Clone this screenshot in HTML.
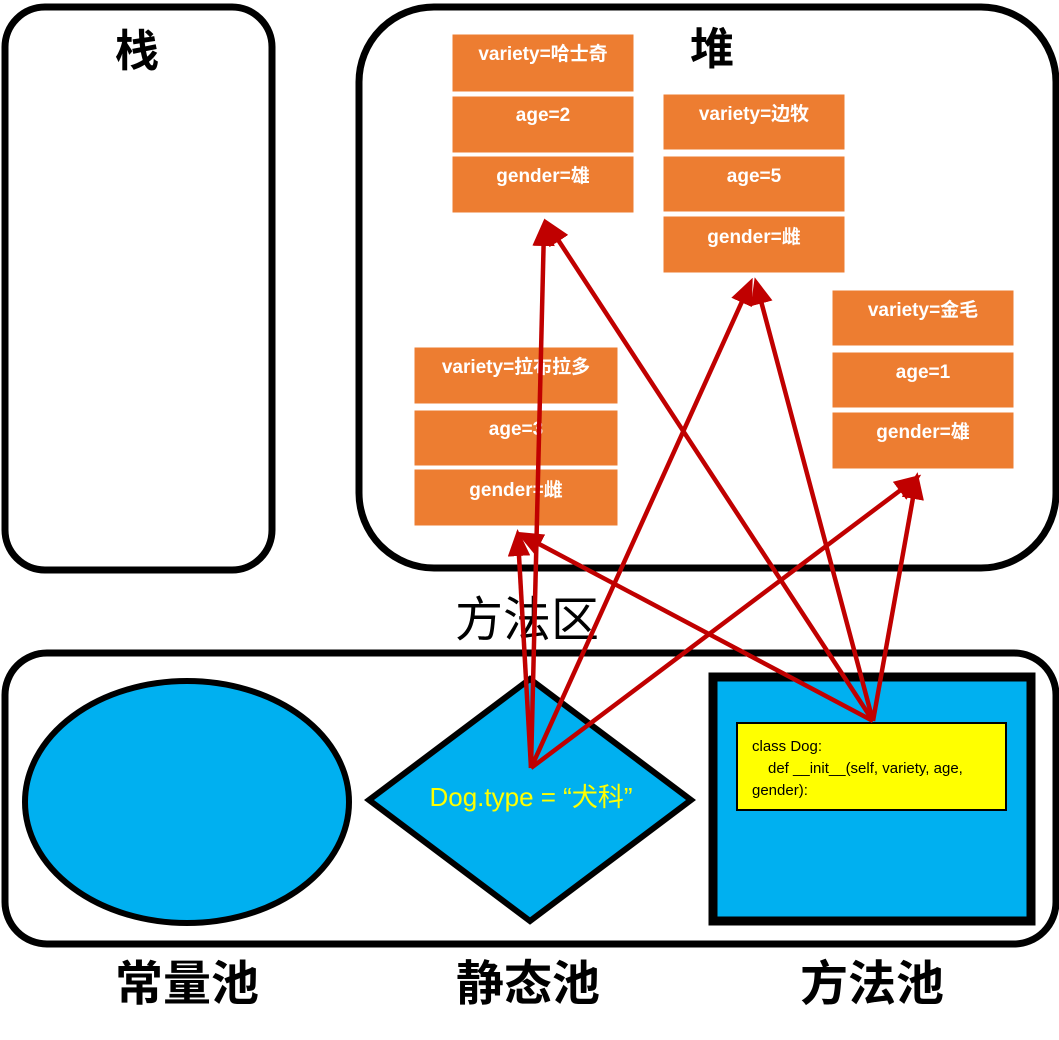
<!DOCTYPE html>
<html><head><meta charset="utf-8"><style>
html,body{margin:0;padding:0;background:#fff}
svg{display:block}
.o{fill:#ed7d31;stroke:#fff;stroke-width:1}
.t{fill:#fff;font-family:"Liberation Sans","Noto Sans CJK SC",sans-serif;font-weight:bold;font-size:19px;text-anchor:middle}
.big{font-family:"Liberation Sans","Noto Sans CJK SC",sans-serif;font-weight:bold;font-size:48px;text-anchor:middle;fill:#000}
.ar{stroke:#c00000;stroke-width:4.5;fill:none}
</style></head><body>
<svg width="1059" height="1040" viewBox="0 0 1059 1040">
<defs><marker id="a" markerWidth="6" markerHeight="5" refX="4" refY="2.5" orient="auto" markerUnits="strokeWidth"><path d="M0,0 L6,2.5 L0,5 z" fill="#c00000"/></marker></defs>
<rect x="5" y="7" width="267" height="563" rx="40" fill="#fff" stroke="#000" stroke-width="7"/>
<rect x="359" y="7" width="697" height="561" rx="75" fill="#fff" stroke="#000" stroke-width="7"/>
<rect x="5" y="653" width="1051" height="291" rx="42" fill="#fff" stroke="#000" stroke-width="7"/>
<text class="big" x="137" y="66" style="font-size:44px">栈</text>
<text class="big" x="712" y="64" style="font-size:44px">堆</text>
<text x="527" y="636" style="font-family:'Liberation Sans','Noto Sans CJK SC',sans-serif;font-size:48px;text-anchor:middle">方法区</text>
<text class="big" x="187" y="1000">常量池</text>
<text class="big" x="528" y="1000">静态池</text>
<text class="big" x="872" y="1000">方法池</text>
<ellipse cx="187" cy="802" rx="162" ry="121" fill="#00b0f0" stroke="#000" stroke-width="6"/>
<polygon points="530,679 691,800 530,921 369,800" fill="#00b0f0" stroke="#000" stroke-width="6"/>
<text x="531" y="806" style="font-family:'Liberation Sans','Noto Sans CJK SC',sans-serif;font-size:26px;fill:#ffff00;text-anchor:middle">Dog.type = “犬科”</text>
<rect x="713" y="677" width="318" height="244" fill="#00b0f0" stroke="#000" stroke-width="9"/>
<rect x="737" y="723" width="269" height="87" fill="#ffff00" stroke="#000" stroke-width="2"/>
<text style="font-family:'Liberation Sans',sans-serif;font-size:15px" fill="#000"><tspan x="752" y="751">class Dog:</tspan><tspan x="768" y="773">def __init__(self, variety, age,</tspan><tspan x="752" y="795">gender):</tspan></text>
<g>
<rect class="o" x="452" y="34" width="182" height="58"/><rect class="o" x="452" y="96" width="182" height="57"/><rect class="o" x="452" y="156" width="182" height="57"/>
<text class="t" x="543" y="60">variety=哈士奇</text><text class="t" x="543" y="121">age=2</text><text class="t" x="543" y="182">gender=雄</text>
<rect class="o" x="663" y="94" width="182" height="56"/><rect class="o" x="663" y="156" width="182" height="56"/><rect class="o" x="663" y="216" width="182" height="57"/>
<text class="t" x="754" y="120">variety=边牧</text><text class="t" x="754" y="182">age=5</text><text class="t" x="754" y="243">gender=雌</text>
<rect class="o" x="832" y="290" width="182" height="56"/><rect class="o" x="832" y="352" width="182" height="56"/><rect class="o" x="832" y="412" width="182" height="57"/>
<text class="t" x="923" y="316">variety=金毛</text><text class="t" x="923" y="378">age=1</text><text class="t" x="923" y="438">gender=雄</text>
<rect class="o" x="414" y="347" width="204" height="57"/><rect class="o" x="414" y="410" width="204" height="56"/><rect class="o" x="414" y="469" width="204" height="57"/>
<text class="t" x="516" y="373">variety=拉布拉多</text><text class="t" x="516" y="435">age=3</text><text class="t" x="516" y="496">gender=雌</text>
</g>
<g class="ar">
<line x1="531" y1="768" x2="544" y2="228" marker-end="url(#a)"/>
<line x1="531" y1="768" x2="518" y2="538" marker-end="url(#a)"/>
<line x1="531" y1="768" x2="749" y2="286" marker-end="url(#a)"/>
<line x1="531" y1="768" x2="914" y2="480" marker-end="url(#a)"/>
<line x1="873" y1="721" x2="549" y2="226" marker-end="url(#a)"/>
<line x1="873" y1="721" x2="524" y2="536" marker-end="url(#a)"/>
<line x1="873" y1="721" x2="757" y2="286" marker-end="url(#a)"/>
<line x1="873" y1="721" x2="916" y2="481" marker-end="url(#a)"/>
</g>
</svg>
</body></html>
